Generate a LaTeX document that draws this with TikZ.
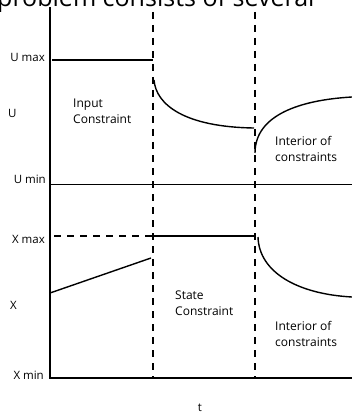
\documentclass[tikz,border=0pt]{standalone}
\usepackage{fontspec}
\setmainfont{Open Sans}
\begin{document}
\begin{tikzpicture}[x=1pt,y=-1pt,
  lbl/.style={inner sep=0pt,font=\fontsize{11.5}{16}\selectfont},
  txt/.style={inner sep=0pt,align=left,anchor=north west,font=\fontsize{12}{16}\selectfont},
  axis/.style={line width=1.2pt},
  curve/.style={line width=1.4pt},
  dsh/.style={line width=1.1pt,dash pattern=on 7pt off 6pt}]
\useasboundingbox (0,0) rectangle (352,414);
\begin{scope}
\clip (0,0) rectangle (352,414);
\node[inner sep=0pt,anchor=base west,font=\fontsize{25}{25}\selectfont] (head) at (-3,7) {problem consists of several};
\end{scope}
% coordinates
\coordinate (ytop) at (50,7);
\coordinate (o) at (50,378);
\coordinate (xend) at (352,378);
\coordinate (d1t) at (153,12);
\coordinate (d1b) at (153,378);
\coordinate (d2t) at (255,12);
\coordinate (d2b) at (255,378);
\coordinate (umina) at (50,184);
\coordinate (uminb) at (352,184);
\coordinate (umaxa) at (52,60);
\coordinate (umaxb) at (153,60);
\coordinate (xmaxa) at (54,236);
\coordinate (xmaxb) at (153,236);
\coordinate (xmaxc) at (255,236);
\coordinate (c1a) at (154,80);
\coordinate (c1b) at (254,128);
\coordinate (c2a) at (255,153);
\coordinate (c2b) at (352,97);
\coordinate (c3a) at (258,237);
\coordinate (c3b) at (352,297);
\coordinate (la) at (50,293);
\coordinate (lb) at (151,258);
% axes
\draw[axis] (ytop) -- (o) -- (xend);
\draw[line width=1pt] (umina) -- (uminb);
% dashed
\draw[dsh] (d1t) -- (d1b);
\draw[dsh] (d2t) -- (d2b);
\draw[dsh] (xmaxa) -- (xmaxb);
% solid
\draw[curve] (umaxa) -- (umaxb);
\draw[curve] (xmaxb) -- (xmaxc);
\draw[curve] (la) -- (lb);
\draw[curve] (c1a) .. controls (156,105) and (185,127) .. (c1b);
\draw[curve] (c2a) .. controls (255,115) and (300,100) .. (c2b);
\draw[curve] (c3a) .. controls (259,272) and (297,294) .. (c3b);
% labels
\node[lbl,anchor=base east] (umax) at (45,62) {U max};
\node[lbl,anchor=base west] (u) at (8,118) {U};
\node[lbl,anchor=base east] (umin) at (46,183) {U min};
\node[lbl,anchor=base east] (xmax) at (45,243) {X max};
\node[lbl,anchor=base west] (x) at (10,309) {X};
\node[lbl,anchor=base east] (xmin) at (44,379) {X min};
\node[lbl,anchor=base] (t) at (200,411) {t};
\node[txt] (inp) at (73,99) {Input\\Constraint};
\node[txt] (int1) at (275,136) {Interior of\\constraints};
\node[txt] (st) at (175,291) {State\\Constraint};
\node[txt] (int2) at (275,321) {Interior of\\constraints};
\end{tikzpicture}
\end{document}
